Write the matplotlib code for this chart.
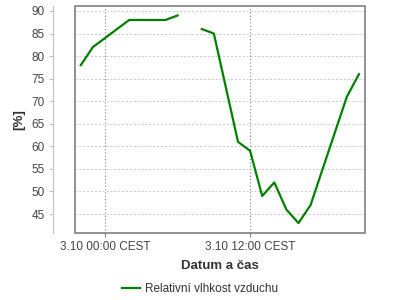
import matplotlib
matplotlib.use("Agg")
import matplotlib.pyplot as plt
import matplotlib.dates as mdates
from matplotlib.ticker import FuncFormatter
from matplotlib.patches import Rectangle
from datetime import datetime, timedelta

plt.rcParams['font.family'] = ['Liberation Sans', 'DejaVu Sans']

# hodiny od 3.10 00:00, None = výpadek měření
hours = [-2, -1, 2, 3, 4, 5, 6, 7, 8, 9, 10, 11, 12, 13, 14, 15, 16, 17, 18, 19, 20, 21]
humidity = [78, 82, 88, 88, 88, 88, 89, None, 86, 85, 73, 61, 59, 49, 52, 46, 43, 47, 55, 63, 71, 76]
series_label = "Relativní vlhkost vzduchu"

start = datetime(2020, 10, 3, 0, 0)
times = [start + timedelta(hours=h) for h in hours]
vals = [float('nan') if v is None else v for v in humidity]

fig = plt.figure(figsize=(4, 3), dpi=100)
ax = fig.add_axes([0.1875, 0.2233, 0.725, 0.7567])

line, = ax.plot(times, vals, color='#008000', lw=1.6, label=series_label)

ax.set_ylim(40.8, 91.1)
ax.set_xlim(start - timedelta(hours=2.48), start + timedelta(hours=21.5))
ax.set_yticks(range(45, 91, 5))
ax.set_xticks([start, start + timedelta(hours=12)])
ax.xaxis.set_major_formatter(FuncFormatter(
    lambda x, pos: (lambda d: f"{d.day}.{d.month} {d:%H:%M} CEST")(mdates.num2date(x))))

ax.yaxis.grid(True, color='#c8c8c8', ls=(0, (2, 2)), lw=0.7)
ax.xaxis.grid(True, color='#808080', ls=(0, (1, 2)), lw=0.8)

for s in ['top', 'right', 'bottom']:
    ax.spines[s].set_visible(False)
# osa y odsazená o ~22 px vlevo od rámu grafu
ax.spines['left'].set_position(('outward', 15.8))
ax.spines['left'].set_color('#c0c0c0')
ax.add_patch(Rectangle((0, 0), 1, 1, transform=ax.transAxes, fill=False,
                       ec='#808080', lw=1.2, clip_on=False, zorder=5))

ax.tick_params(axis='both', labelsize=8.5, labelcolor='#444444')
ax.tick_params(axis='y', length=3, width=0.8, color='#c0c0c0', pad=3)
ax.tick_params(axis='x', length=3, width=0.8, color='#808080', pad=3)

ax.set_xlabel("Datum a čas", fontsize=9.5, fontweight='bold', color='#333333', labelpad=5)
ax.set_ylabel("[%]", fontsize=9.5, fontweight='bold', color='#333333')
ax.yaxis.set_label_coords(-0.17, 0.5)

fig.legend(handles=[line], loc='center', bbox_to_anchor=(0.5, 0.037), frameon=False,
           fontsize=8.5, handlelength=1.5, handletextpad=0.4, labelcolor='#333333')

fig.savefig("out.png", dpi=100)
